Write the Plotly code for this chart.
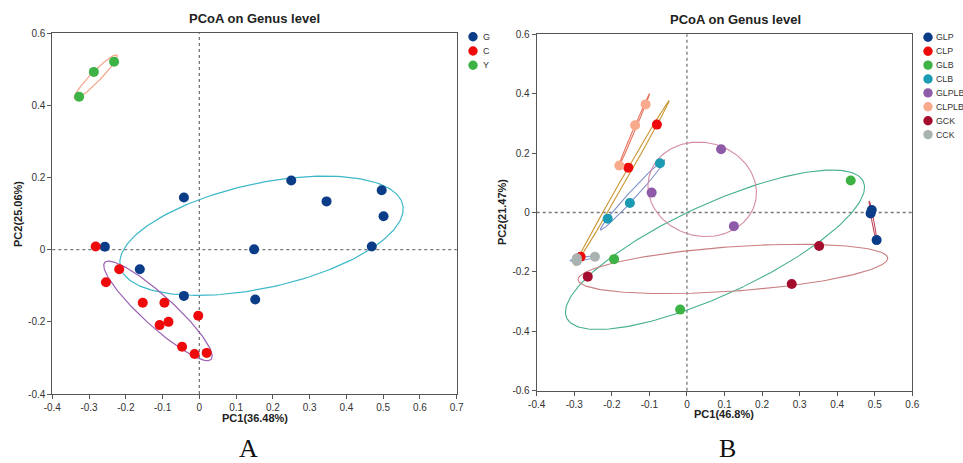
import numpy as np
import plotly.graph_objects as go

# ---------------- Data: panel A ----------------
groups_a = ["G", "C", "Y"]
G_x = [-0.042, 0.250, 0.346, 0.496, 0.501, -0.257, -0.162, -0.042, 0.149, 0.152, 0.469]
G_y = [0.145, 0.192, 0.134, 0.165, 0.093, 0.008, -0.054, -0.128, 0.001, -0.138, 0.009]
C_x = [-0.282, -0.218, -0.254, -0.154, -0.095, -0.003, -0.108, -0.084, -0.047, -0.013, 0.020]
C_y = [0.009, -0.054, -0.090, -0.147, -0.147, -0.183, -0.209, -0.200, -0.269, -0.289, -0.286]
Y_x = [-0.327, -0.287, -0.232]
Y_y = [0.424, 0.493, 0.521]

# ---------------- Data: panel B ----------------
groups_b = ["GLP", "CLP", "GLB", "CLB", "GLPLB", "CLPLB", "GCK", "CCK"]
GLP_x = [0.492, 0.489, 0.505]
GLP_y = [0.008, -0.003, -0.093]
CLP_x = [-0.080, -0.156, -0.283]
CLP_y = [0.296, 0.151, -0.149]
GLB_x = [0.436, -0.194, -0.018]
GLB_y = [0.108, -0.157, -0.327]
CLB_x = [-0.072, -0.152, -0.211]
CLB_y = [0.166, 0.032, -0.021]
GLPLB_x = [0.091, -0.094, 0.125]
GLPLB_y = [0.213, 0.067, -0.046]
CLPLB_x = [-0.110, -0.138, -0.180]
CLPLB_y = [0.364, 0.294, 0.158]
GCK_x = [0.352, 0.279, -0.264]
GCK_y = [-0.113, -0.241, -0.216]
CCK_x = [-0.245, -0.293, -0.293]
CCK_y = [-0.149, -0.154, -0.163]

x_a_ticks = [-0.4, -0.3, -0.2, -0.1, 0, 0.1, 0.2, 0.3, 0.4, 0.5, 0.6, 0.7]
x_a_labels = ["-0.4", "-0.3", "-0.2", "-0.1", "0", "0.1", "0.2", "0.3", "0.4", "0.5", "0.6", "0.7"]
y_a_ticks = [-0.4, -0.2, 0, 0.2, 0.4, 0.6]
y_a_labels = ["-0.4", "-0.2", "0", "0.2", "0.4", "0.6"]
x_b_ticks = [-0.4, -0.3, -0.2, -0.1, 0, 0.1, 0.2, 0.3, 0.4, 0.5, 0.6]
x_b_labels = ["-0.4", "-0.3", "-0.2", "-0.1", "0", "0.1", "0.2", "0.3", "0.4", "0.5", "0.6"]
y_b_ticks = [-0.6, -0.4, -0.2, 0, 0.2, 0.4, 0.6]
y_b_labels = ["-0.6", "-0.4", "-0.2", "0", "0.2", "0.4", "0.6"]

# ---------------- Styles ----------------
data_a = {"G": (G_x, G_y), "C": (C_x, C_y), "Y": (Y_x, Y_y)}
pt_col_a = {"G": "#0b3c87", "C": "#ee0a0a", "Y": "#3db345"}
el_col_a = {"G": "#3db8c9", "C": "#9b62b3", "Y": "#f5a58c"}

data_b = {"GLP": (GLP_x, GLP_y), "CLP": (CLP_x, CLP_y), "GLB": (GLB_x, GLB_y),
          "CLB": (CLB_x, CLB_y), "GLPLB": (GLPLB_x, GLPLB_y), "CLPLB": (CLPLB_x, CLPLB_y),
          "GCK": (GCK_x, GCK_y), "CCK": (CCK_x, CCK_y)}
pt_col_b = {"GLP": "#0b3c87", "CLP": "#ee0a0a", "GLB": "#3db345", "CLB": "#1a9bb3",
            "GLPLB": "#8d5ba8", "CLPLB": "#f9aa8d", "GCK": "#a50d2e", "CCK": "#a9b3b2"}
el_col_b = {"GLP": "#c2485f", "CLP": "#c9962f", "GLB": "#45b08b", "CLB": "#8091c9",
            "GLPLB": "#d48ba3", "CLPLB": "#e8745f", "GCK": "#c97f80", "CCK": "#8a9ad3"}

K = 1.5


def ellipse(xs, ys, k=K, n=200):
    pts = np.vstack([xs, ys])
    c = pts.mean(axis=1)
    cov = np.cov(pts, bias=True)
    vals, vecs = np.linalg.eigh(cov)
    vals = np.clip(vals, 1e-9, None)
    t = np.linspace(0, 2 * np.pi, n)
    circ = np.vstack([np.cos(t), np.sin(t)])
    e = vecs @ (np.sqrt(vals)[:, None] * circ) * k
    return c[0] + e[0], c[1] + e[1]


fig = go.Figure()

for g in groups_a:
    ex, ey = ellipse(*data_a[g])
    fig.add_trace(go.Scatter(x=ex, y=ey, mode="lines", line=dict(color=el_col_a[g], width=1.2),
                             showlegend=False, hoverinfo="skip", xaxis="x", yaxis="y"))
for g in groups_a:
    fig.add_trace(go.Scatter(x=data_a[g][0], y=data_a[g][1], mode="markers", name=g,
                             marker=dict(color=pt_col_a[g], size=10, line=dict(width=0)),
                             showlegend=False, xaxis="x", yaxis="y"))

for g in groups_b:
    ex, ey = ellipse(*data_b[g])
    fig.add_trace(go.Scatter(x=ex, y=ey, mode="lines", line=dict(color=el_col_b[g], width=1.1),
                             showlegend=False, hoverinfo="skip", xaxis="x2", yaxis="y2"))
for g in groups_b:
    fig.add_trace(go.Scatter(x=data_b[g][0], y=data_b[g][1], mode="markers", name=g,
                             marker=dict(color=pt_col_b[g], size=10, line=dict(width=0)),
                             showlegend=False, xaxis="x2", yaxis="y2"))

W, H = 963, 463


def fx(x):
    return x / W


def fy(y):
    return 1 - y / H


axis_common = dict(showgrid=False, zeroline=False, showline=True, mirror=True,
                   linecolor="#555555", linewidth=1, ticks="outside", ticklen=4,
                   tickcolor="#555555", automargin=False,
                   tickfont=dict(family="Arial, Liberation Sans", size=10, color="#333333"))

fig.update_layout(
    width=W, height=H, margin=dict(l=0, r=0, t=0, b=0, pad=0, autoexpand=False),
    paper_bgcolor="white", plot_bgcolor="white", showlegend=False,
    xaxis=dict(domain=[fx(52.3), fx(456.7)], range=[-0.4, 0.7], tickvals=x_a_ticks,
               ticktext=x_a_labels, anchor="y", **axis_common),
    yaxis=dict(domain=[fy(394), fy(33.3)], range=[-0.4, 0.6], tickvals=y_a_ticks,
               ticktext=y_a_labels, anchor="x", **axis_common),
    xaxis2=dict(domain=[fx(536.7), fx(912.3)], range=[-0.4, 0.6], tickvals=x_b_ticks,
                ticktext=x_b_labels, anchor="y2", **axis_common),
    yaxis2=dict(domain=[fy(390.7), fy(34.3)], range=[-0.6, 0.6], tickvals=y_b_ticks,
                ticktext=y_b_labels, anchor="x2", **axis_common),
)

dot = dict(color="#777777", width=1.3, dash="dot")
fig.add_shape(type="line", xref="x", yref="y domain", x0=0, x1=0, y0=0, y1=1, line=dot, layer="below")
fig.add_shape(type="line", xref="x domain", yref="y", x0=0, x1=1, y0=0, y1=0, line=dot, layer="below")
fig.add_shape(type="line", xref="x2", yref="y2 domain", x0=0, x1=0, y0=0, y1=1, line=dot, layer="below")
fig.add_shape(type="line", xref="x2 domain", yref="y2", x0=0, x1=1, y0=0, y1=0, line=dot, layer="below")

font_b = "Arial, Liberation Sans"

annots = []
for cx, cy in [(254, 18), (735, 19)]:
    annots.append(dict(x=fx(cx), y=fy(cy), xref="paper", yref="paper", text="<b>PCoA on Genus level</b>",
                       showarrow=False, font=dict(family=font_b, size=13, color="#222222"),
                       xanchor="center", yanchor="middle"))
for (cx, cy, txt, ang) in [(255, 417.5, "PC1(36.48%)", 0), (18, 214, "PC2(25.06%)", -90),
                           (724, 413.5, "PC1(46.8%)", 0), (502, 212, "PC2(21.47%)", -90)]:
    annots.append(dict(x=fx(cx), y=fy(cy), xref="paper", yref="paper", text="<b>" + txt + "</b>",
                       showarrow=False, textangle=ang, font=dict(family=font_b, size=11, color="#222222"),
                       xanchor="center", yanchor="middle"))
for cx, cy, txt in [(248, 448.5, "A"), (727, 448.5, "B")]:
    annots.append(dict(x=fx(cx), y=fy(cy), xref="paper", yref="paper", text=txt, showarrow=False,
                       font=dict(family="Liberation Serif, Times New Roman", size=26, color="#111111"),
                       xanchor="center", yanchor="middle"))

shapes = []
for groups, cols, mx, tx, y0, dy, fs in [(groups_a, pt_col_a, 473, 480.5, 36.7, 14.3, 9),
                                          (groups_b, pt_col_b, 928, 933.5, 37.3, 13.9, 8.8)]:
    for i, g in enumerate(groups):
        yy = y0 + i * dy
        shapes.append(dict(type="circle", xref="paper", yref="paper", xsizemode="pixel",
                           ysizemode="pixel", xanchor=fx(mx), yanchor=fy(yy), x0=-4.7, x1=4.7,
                           y0=-4.7, y1=4.7, fillcolor=cols[g], line=dict(width=0)))
        annots.append(dict(x=fx(tx), y=fy(yy), xref="paper", yref="paper", text=g, showarrow=False,
                           font=dict(family=font_b, size=fs, color="#333333"),
                           xanchor="left", yanchor="middle"))

for s in shapes:
    fig.add_shape(**s)
fig.update_layout(annotations=annots)

fig.write_html("out.html", config={"displayModeBar": False},
               post_script="document.body.style.margin='0px';")
